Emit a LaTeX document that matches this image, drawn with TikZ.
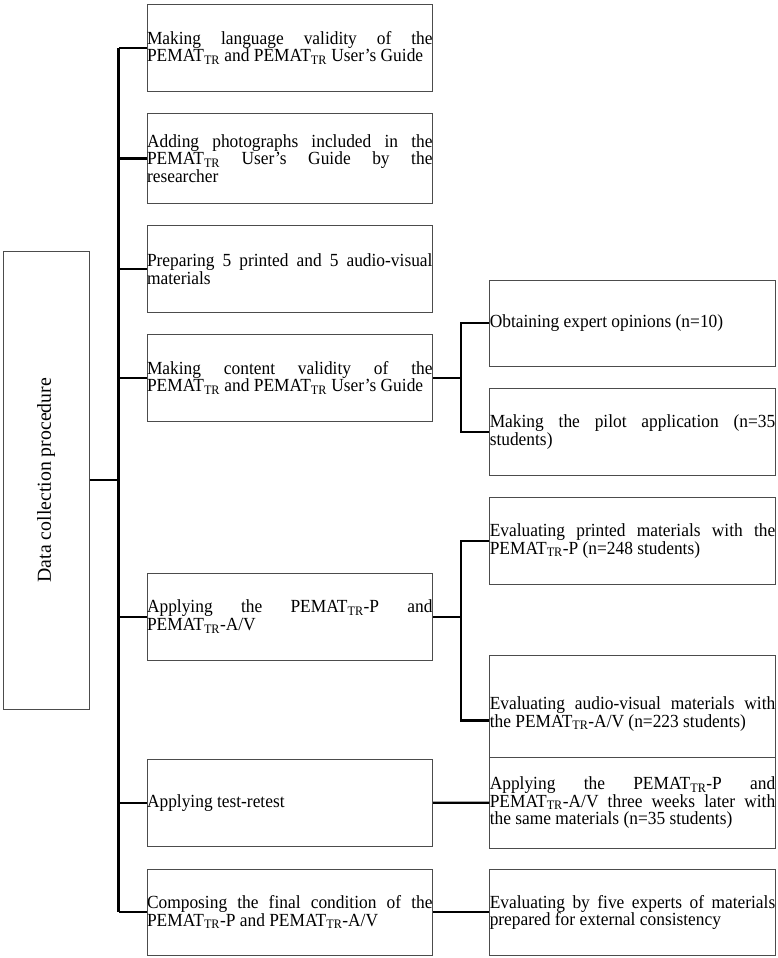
\documentclass[tikz,border=0pt]{standalone}
\usepackage{fontspec}
\setmainfont[FakeStretch=0.94]{Liberation Serif}
\newfontfamily\sidefont{Liberation Serif}
\newcommand{\pemat}{PEMAT\textsubscript{TR}}
\tolerance=10000 \hbadness=10000 \hyphenpenalty=10000 \exhyphenpenalty=10000

\begin{document}
\begin{tikzpicture}[x=1pt,y=-1pt,
    box/.style={draw=black!70, line width=1pt, inner sep=0pt, text width=285.5pt,
      minimum height=86.7pt, align=justify, font=\fontsize{18.5}{17.6}\selectfont},
    link/.style={line width=2.2pt}]
\useasboundingbox (0,0) rectangle (778,958);
% left box
\node[draw=black!70, line width=1pt, inner sep=0pt, minimum width=86.3pt, minimum height=458.3pt,
  font=\sidefont\fontsize{19.8}{20}\selectfont] (dcp) at (46.2,480.2) {\rotatebox{90}{Data collection procedure}};
% steps
\node[box] (b1) at (289.75,47.65) {Making language validity of the\linebreak \pemat{} and \pemat{} User's Guide};
\node[box, minimum height=89.6pt] (b2) at (289.75,158.5) {Adding photographs included in the\linebreak \pemat{} User's Guide by the\linebreak researcher};
\node[box] (b3) at (289.75,269) {Preparing 5 printed and 5 audio-visual\linebreak materials};
\node[box] (b4) at (289.75,377.65) {Making content validity of the\linebreak \pemat{} and \pemat{} User's Guide};
\node[box] (b5) at (289.75,616.65) {Applying the \pemat-P and\linebreak \pemat-A/V};
\node[box] (b6) at (289.75,802.65) {Applying test-retest};
\node[box] (b7) at (289.75,912.35) {Composing the final condition of the\linebreak \pemat-P and \pemat-A/V};
% sub steps
\node[box] (s1) at (632.5,323.35) {Obtaining expert opinions (n=10)};
\node[box] (s2) at (632.5,432) {Making the pilot application (n=35\linebreak students)};
\node[box] (s3) at (632.5,541) {Evaluating printed materials with the\linebreak \pemat-P (n=248 students)};
\node[box, minimum height=102.3pt] (s4) at (632.5,706.15) {\mbox{}\\[11.2pt]Evaluating audio-visual materials with\linebreak the \pemat-A/V (n=223 students)};
\node[box, minimum height=91pt] (s5) at (632.5,802.8) {Applying the \pemat-P and\linebreak \pemat-A/V three weeks later with\linebreak the same materials (n=35 students)};
\node[box] (s6) at (632.5,912.35) {Evaluating by five experts of materials\linebreak prepared for external consistency};
% connectors
\coordinate (tr) at (118.5,0);
\coordinate (sa) at (461,0);
\coordinate (s4t) at ([yshift=-14.4pt]s4.west);
\draw[link] (dcp.east) -- (dcp.east -| tr);
\draw[link] (b1.west -| tr) -- (b7.west -| tr);
\foreach \n in {b1,b2,b3,b4,b5,b6,b7}
  \draw[link] (\n.west) -- (\n.west -| tr);
\draw[link] (b4.east) -- (b4.east -| sa);
\draw[link] (s1.west) -- (s1.west -| sa) -- (s2.west -| sa) -- (s2.west);
\draw[link] (b5.east) -- (b5.east -| sa);
\draw[link] (s3.west) -- (s3.west -| sa) -- (s4t -| sa) -- (s4t);
\draw[link] (b6.east) -- (s5.west);
\draw[link] (b7.east) -- (s6.west);
\end{tikzpicture}
\end{document}
